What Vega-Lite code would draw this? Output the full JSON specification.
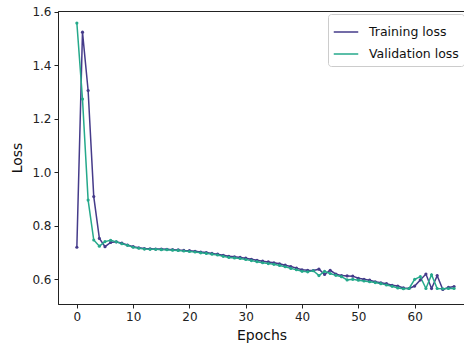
{
  "$schema": "https://vega.github.io/schema/vega-lite/v6.json",
  "autosize": "none",
  "width": 407,
  "height": 293,
  "padding": {"left": 58, "top": 11, "right": -1, "bottom": 43},
  "background": "white",
  "config": {
    "font": "DejaVu Sans",
    "view": {"stroke": "#222222", "strokeWidth": 1},
    "axis": {
      "grid": false,
      "domainColor": "#222222",
      "tickColor": "#222222",
      "labelColor": "#222222",
      "titleColor": "#111111",
      "labelFont": "DejaVu Sans",
      "titleFont": "DejaVu Sans",
      "labelFontSize": 12,
      "titleFontSize": 14,
      "titleFontWeight": "normal",
      "tickSize": 4,
      "labelPadding": 3
    }
  },
  "datasets": {
    "loss": [
      {"epoch": 0, "series": "Training loss", "loss": 0.720},
      {"epoch": 1, "series": "Training loss", "loss": 1.523},
      {"epoch": 2, "series": "Training loss", "loss": 1.305},
      {"epoch": 3, "series": "Training loss", "loss": 0.909},
      {"epoch": 4, "series": "Training loss", "loss": 0.753},
      {"epoch": 5, "series": "Training loss", "loss": 0.722},
      {"epoch": 6, "series": "Training loss", "loss": 0.738},
      {"epoch": 7, "series": "Training loss", "loss": 0.740},
      {"epoch": 8, "series": "Training loss", "loss": 0.735},
      {"epoch": 9, "series": "Training loss", "loss": 0.728},
      {"epoch": 10, "series": "Training loss", "loss": 0.722},
      {"epoch": 11, "series": "Training loss", "loss": 0.718},
      {"epoch": 12, "series": "Training loss", "loss": 0.715},
      {"epoch": 13, "series": "Training loss", "loss": 0.714},
      {"epoch": 14, "series": "Training loss", "loss": 0.713},
      {"epoch": 15, "series": "Training loss", "loss": 0.713},
      {"epoch": 16, "series": "Training loss", "loss": 0.712},
      {"epoch": 17, "series": "Training loss", "loss": 0.711},
      {"epoch": 18, "series": "Training loss", "loss": 0.710},
      {"epoch": 19, "series": "Training loss", "loss": 0.708},
      {"epoch": 20, "series": "Training loss", "loss": 0.707},
      {"epoch": 21, "series": "Training loss", "loss": 0.705},
      {"epoch": 22, "series": "Training loss", "loss": 0.702},
      {"epoch": 23, "series": "Training loss", "loss": 0.700},
      {"epoch": 24, "series": "Training loss", "loss": 0.697},
      {"epoch": 25, "series": "Training loss", "loss": 0.694},
      {"epoch": 26, "series": "Training loss", "loss": 0.690},
      {"epoch": 27, "series": "Training loss", "loss": 0.686},
      {"epoch": 28, "series": "Training loss", "loss": 0.684},
      {"epoch": 29, "series": "Training loss", "loss": 0.682},
      {"epoch": 30, "series": "Training loss", "loss": 0.679},
      {"epoch": 31, "series": "Training loss", "loss": 0.675},
      {"epoch": 32, "series": "Training loss", "loss": 0.671},
      {"epoch": 33, "series": "Training loss", "loss": 0.668},
      {"epoch": 34, "series": "Training loss", "loss": 0.665},
      {"epoch": 35, "series": "Training loss", "loss": 0.662},
      {"epoch": 36, "series": "Training loss", "loss": 0.658},
      {"epoch": 37, "series": "Training loss", "loss": 0.653},
      {"epoch": 38, "series": "Training loss", "loss": 0.648},
      {"epoch": 39, "series": "Training loss", "loss": 0.642},
      {"epoch": 40, "series": "Training loss", "loss": 0.636},
      {"epoch": 41, "series": "Training loss", "loss": 0.634},
      {"epoch": 42, "series": "Training loss", "loss": 0.633},
      {"epoch": 43, "series": "Training loss", "loss": 0.638},
      {"epoch": 44, "series": "Training loss", "loss": 0.618},
      {"epoch": 45, "series": "Training loss", "loss": 0.634},
      {"epoch": 46, "series": "Training loss", "loss": 0.620},
      {"epoch": 47, "series": "Training loss", "loss": 0.614},
      {"epoch": 48, "series": "Training loss", "loss": 0.613},
      {"epoch": 49, "series": "Training loss", "loss": 0.612},
      {"epoch": 50, "series": "Training loss", "loss": 0.604},
      {"epoch": 51, "series": "Training loss", "loss": 0.600},
      {"epoch": 52, "series": "Training loss", "loss": 0.597},
      {"epoch": 53, "series": "Training loss", "loss": 0.591},
      {"epoch": 54, "series": "Training loss", "loss": 0.587},
      {"epoch": 55, "series": "Training loss", "loss": 0.584},
      {"epoch": 56, "series": "Training loss", "loss": 0.578},
      {"epoch": 57, "series": "Training loss", "loss": 0.575},
      {"epoch": 58, "series": "Training loss", "loss": 0.568},
      {"epoch": 59, "series": "Training loss", "loss": 0.566},
      {"epoch": 60, "series": "Training loss", "loss": 0.575},
      {"epoch": 61, "series": "Training loss", "loss": 0.598},
      {"epoch": 62, "series": "Training loss", "loss": 0.620},
      {"epoch": 63, "series": "Training loss", "loss": 0.566},
      {"epoch": 64, "series": "Training loss", "loss": 0.614},
      {"epoch": 65, "series": "Training loss", "loss": 0.562},
      {"epoch": 66, "series": "Training loss", "loss": 0.570},
      {"epoch": 67, "series": "Training loss", "loss": 0.573},
      {"epoch": 0, "series": "Validation loss", "loss": 1.557},
      {"epoch": 1, "series": "Validation loss", "loss": 1.273},
      {"epoch": 2, "series": "Validation loss", "loss": 0.896},
      {"epoch": 3, "series": "Validation loss", "loss": 0.747},
      {"epoch": 4, "series": "Validation loss", "loss": 0.724},
      {"epoch": 5, "series": "Validation loss", "loss": 0.741},
      {"epoch": 6, "series": "Validation loss", "loss": 0.746},
      {"epoch": 7, "series": "Validation loss", "loss": 0.740},
      {"epoch": 8, "series": "Validation loss", "loss": 0.733},
      {"epoch": 9, "series": "Validation loss", "loss": 0.727},
      {"epoch": 10, "series": "Validation loss", "loss": 0.720},
      {"epoch": 11, "series": "Validation loss", "loss": 0.716},
      {"epoch": 12, "series": "Validation loss", "loss": 0.713},
      {"epoch": 13, "series": "Validation loss", "loss": 0.712},
      {"epoch": 14, "series": "Validation loss", "loss": 0.712},
      {"epoch": 15, "series": "Validation loss", "loss": 0.711},
      {"epoch": 16, "series": "Validation loss", "loss": 0.711},
      {"epoch": 17, "series": "Validation loss", "loss": 0.709},
      {"epoch": 18, "series": "Validation loss", "loss": 0.708},
      {"epoch": 19, "series": "Validation loss", "loss": 0.706},
      {"epoch": 20, "series": "Validation loss", "loss": 0.704},
      {"epoch": 21, "series": "Validation loss", "loss": 0.702},
      {"epoch": 22, "series": "Validation loss", "loss": 0.699},
      {"epoch": 23, "series": "Validation loss", "loss": 0.697},
      {"epoch": 24, "series": "Validation loss", "loss": 0.694},
      {"epoch": 25, "series": "Validation loss", "loss": 0.691},
      {"epoch": 26, "series": "Validation loss", "loss": 0.686},
      {"epoch": 27, "series": "Validation loss", "loss": 0.682},
      {"epoch": 28, "series": "Validation loss", "loss": 0.680},
      {"epoch": 29, "series": "Validation loss", "loss": 0.678},
      {"epoch": 30, "series": "Validation loss", "loss": 0.674},
      {"epoch": 31, "series": "Validation loss", "loss": 0.670},
      {"epoch": 32, "series": "Validation loss", "loss": 0.666},
      {"epoch": 33, "series": "Validation loss", "loss": 0.662},
      {"epoch": 34, "series": "Validation loss", "loss": 0.659},
      {"epoch": 35, "series": "Validation loss", "loss": 0.656},
      {"epoch": 36, "series": "Validation loss", "loss": 0.652},
      {"epoch": 37, "series": "Validation loss", "loss": 0.647},
      {"epoch": 38, "series": "Validation loss", "loss": 0.641},
      {"epoch": 39, "series": "Validation loss", "loss": 0.636},
      {"epoch": 40, "series": "Validation loss", "loss": 0.630},
      {"epoch": 41, "series": "Validation loss", "loss": 0.628},
      {"epoch": 42, "series": "Validation loss", "loss": 0.632},
      {"epoch": 43, "series": "Validation loss", "loss": 0.614},
      {"epoch": 44, "series": "Validation loss", "loss": 0.630},
      {"epoch": 45, "series": "Validation loss", "loss": 0.622},
      {"epoch": 46, "series": "Validation loss", "loss": 0.615},
      {"epoch": 47, "series": "Validation loss", "loss": 0.610},
      {"epoch": 48, "series": "Validation loss", "loss": 0.598},
      {"epoch": 49, "series": "Validation loss", "loss": 0.600},
      {"epoch": 50, "series": "Validation loss", "loss": 0.597},
      {"epoch": 51, "series": "Validation loss", "loss": 0.594},
      {"epoch": 52, "series": "Validation loss", "loss": 0.591},
      {"epoch": 53, "series": "Validation loss", "loss": 0.588},
      {"epoch": 54, "series": "Validation loss", "loss": 0.584},
      {"epoch": 55, "series": "Validation loss", "loss": 0.579},
      {"epoch": 56, "series": "Validation loss", "loss": 0.574},
      {"epoch": 57, "series": "Validation loss", "loss": 0.568},
      {"epoch": 58, "series": "Validation loss", "loss": 0.565},
      {"epoch": 59, "series": "Validation loss", "loss": 0.566},
      {"epoch": 60, "series": "Validation loss", "loss": 0.600},
      {"epoch": 61, "series": "Validation loss", "loss": 0.610},
      {"epoch": 62, "series": "Validation loss", "loss": 0.566},
      {"epoch": 63, "series": "Validation loss", "loss": 0.617},
      {"epoch": 64, "series": "Validation loss", "loss": 0.566},
      {"epoch": 65, "series": "Validation loss", "loss": 0.565},
      {"epoch": 66, "series": "Validation loss", "loss": 0.566},
      {"epoch": 67, "series": "Validation loss", "loss": 0.566}
    ]
  },
  "data": {"name": "loss"},
  "mark": {"type": "line", "strokeWidth": 1.5, "clip": true, "point": {"filled": true, "size": 10}},
  "encoding": {
    "x": {
      "field": "epoch", "type": "quantitative",
      "scale": {"domain": [-3.35, 68.94], "nice": false, "zero": false},
      "axis": {"title": "Epochs", "values": [0, 10, 20, 30, 40, 50, 60, 70], "titlePadding": 6}
    },
    "y": {
      "field": "loss", "type": "quantitative",
      "scale": {"domain": [0.508, 1.602], "nice": false, "zero": false},
      "axis": {"title": "Loss", "values": [0.6, 0.8, 1.0, 1.2, 1.4, 1.6], "format": ".1f", "titlePadding": 7}
    },
    "color": {
      "field": "series", "type": "nominal",
      "scale": {"domain": ["Training loss", "Validation loss"], "range": ["#453b8a", "#25a98b"]},
      "legend": {
        "title": null,
        "orient": "none",
        "legendX": 270,
        "legendY": 3,
        "symbolType": "stroke",
        "symbolSize": 600,
        "symbolStrokeWidth": 1.5,
        "labelFontSize": 12.5,
        "labelFont": "DejaVu Sans",
        "labelColor": "#111111",
        "rowPadding": 2,
        "labelOffset": 10,
        "padding": 5,
        "strokeColor": "#cccccc",
        "cornerRadius": 3,
        "fillColor": "rgba(255,255,255,0.8)"
      }
    },
    "order": {"field": "epoch"}
  }
}
